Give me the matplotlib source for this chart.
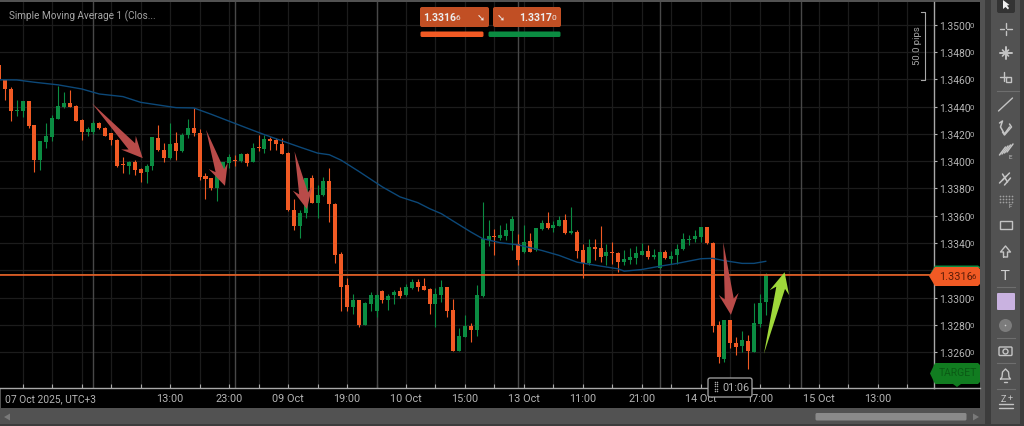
import matplotlib
matplotlib.use('Agg')
import numpy as np
import matplotlib.pyplot as plt
from matplotlib.patches import Rectangle, Polygon, FancyBboxPatch, Circle

plt.rcParams['font.family'] = ['Roboto', 'DejaVu Sans']

# hourly candles, first one is cut off by the left edge
first_index = -1
opens = [1.34703, 1.34598, 1.34532, 1.34365, 1.34370, 1.34439, 1.34262, 1.34010, 1.34140, 1.34176,
         1.34311, 1.34397, 1.34429, 1.34407, 1.34301, 1.34211, 1.34211, 1.34277, 1.34245, 1.34203,
         1.34157, 1.33978, 1.33966, 1.33997, 1.33939, 1.33917, 1.33968, 1.34169, 1.34081, 1.34024,
         1.34130, 1.34073, 1.34189, 1.34245, 1.34203, 1.33892, 1.33875, 1.33804, 1.33895, 1.33990,
         1.34012, 1.34000, 1.34051, 1.33995, 1.34103, 1.34088, 1.34164, 1.34152, 1.34122, 1.34059,
         1.33642, 1.33525, 1.33618, 1.33880, 1.33696, 1.33750, 1.33851, 1.33689, 1.33321, 1.33093,
         1.32929, 1.32983, 1.32802, 1.32954, 1.32902, 1.33052, 1.32983, 1.33017, 1.33047, 1.33017,
         1.33074, 1.33115, 1.33086, 1.33064, 1.32954, 1.33022, 1.33076, 1.32912, 1.32611, 1.32711,
         1.32792, 1.32763, 1.33015, 1.33419, 1.33454, 1.33436, 1.33454, 1.33490, 1.33395, 1.33331,
         1.33417, 1.33348, 1.33503, 1.33549, 1.33512, 1.33525, 1.33566, 1.33473, 1.33483, 1.33346,
         1.33255, 1.33370, 1.33363, 1.33307, 1.33336, 1.33326, 1.33258, 1.33277, 1.33292, 1.33316,
         1.33341, 1.33299, 1.33217, 1.33337, 1.33283, 1.33310, 1.33356, 1.33424, 1.33429, 1.33446,
         1.33515, 1.33403, 1.32800, 1.32551, 1.32836, 1.32668, 1.32644, 1.32683, 1.32605, 1.32807,
         1.32966]
closes = [1.34600, 1.34529, 1.34370, 1.34377, 1.34439, 1.34255, 1.34010, 1.34145, 1.34181, 1.34314,
          1.34402, 1.34429, 1.34399, 1.34296, 1.34213, 1.34235, 1.34277, 1.34240, 1.34186, 1.34154,
          1.33968, 1.33971, 1.33997, 1.33934, 1.33912, 1.33966, 1.34174, 1.34081, 1.34024, 1.34122,
          1.34073, 1.34191, 1.34245, 1.34203, 1.33887, 1.33870, 1.33804, 1.33895, 1.33997, 1.34029,
          1.34000, 1.34049, 1.33983, 1.34100, 1.34096, 1.34162, 1.34149, 1.34125, 1.34054, 1.33640,
          1.33522, 1.33618, 1.33875, 1.33696, 1.33753, 1.33851, 1.33686, 1.33314, 1.33081, 1.32929,
          1.32983, 1.32802, 1.32964, 1.33022, 1.33017, 1.32983, 1.33012, 1.33044, 1.33010, 1.33079,
          1.33115, 1.33081, 1.33059, 1.32954, 1.33025, 1.33079, 1.32902, 1.32611, 1.32719, 1.32792,
          1.32763, 1.33022, 1.33427, 1.33451, 1.33444, 1.33461, 1.33498, 1.33576, 1.33277, 1.33409,
          1.33336, 1.33507, 1.33549, 1.33510, 1.33534, 1.33566, 1.33471, 1.33485, 1.33343, 1.33253,
          1.33368, 1.33360, 1.33299, 1.33334, 1.33326, 1.33258, 1.33285, 1.33299, 1.33324, 1.33341,
          1.33299, 1.33316, 1.33332, 1.33288, 1.33302, 1.33356, 1.33429, 1.33432, 1.33449, 1.33517,
          1.33398, 1.32795, 1.32563, 1.32836, 1.32668, 1.32639, 1.32688, 1.32607, 1.32812, 1.32963,
          1.33166]
highs = [1.34703, 1.34598, 1.34541, 1.34451, 1.34443, 1.34439, 1.34262, 1.34149, 1.34279, 1.34341,
         1.34554, 1.34505, 1.34522, 1.34414, 1.34306, 1.34247, 1.34292, 1.34287, 1.34247, 1.34208,
         1.34162, 1.34029, 1.34002, 1.34005, 1.33949, 1.33978, 1.34174, 1.34262, 1.34132, 1.34279,
         1.34213, 1.34208, 1.34309, 1.34390, 1.34238, 1.33912, 1.33880, 1.33900, 1.33997, 1.34054,
         1.34047, 1.34059, 1.34059, 1.34135, 1.34194, 1.34194, 1.34179, 1.34169, 1.34169, 1.34064,
         1.33723, 1.33642, 1.33875, 1.33902, 1.33826, 1.33887, 1.33949, 1.33694, 1.33338, 1.33145,
         1.33027, 1.32983, 1.32971, 1.33044, 1.33025, 1.33057, 1.33027, 1.33057, 1.33081, 1.33103,
         1.33138, 1.33133, 1.33145, 1.33069, 1.33069, 1.33128, 1.33081, 1.32991, 1.32775, 1.32873,
         1.32812, 1.33093, 1.33701, 1.33571, 1.33505, 1.33534, 1.33547, 1.33596, 1.33463, 1.33534,
         1.33476, 1.33510, 1.33571, 1.33627, 1.33559, 1.33596, 1.33613, 1.33664, 1.33495, 1.33395,
         1.33432, 1.33427, 1.33525, 1.33395, 1.33407, 1.33334, 1.33351, 1.33365, 1.33382, 1.33402,
         1.33387, 1.33358, 1.33337, 1.33351, 1.33344, 1.33393, 1.33473, 1.33459, 1.33495, 1.33517,
         1.33517, 1.33405, 1.32832, 1.32836, 1.32836, 1.32714, 1.32754, 1.32727, 1.32958, 1.33027,
         1.33178]
lows = [1.34600, 1.34451, 1.34292, 1.34328, 1.34321, 1.34243, 1.33917, 1.33936, 1.34096, 1.34145,
        1.34311, 1.34390, 1.34394, 1.34292, 1.34154, 1.34181, 1.34198, 1.34238, 1.34181, 1.34120,
        1.33958, 1.33912, 1.33904, 1.33900, 1.33846, 1.33843, 1.33936, 1.34076, 1.33997, 1.34015,
        1.34010, 1.34068, 1.34169, 1.34184, 1.33863, 1.33721, 1.33789, 1.33708, 1.33887, 1.33949,
        1.33961, 1.33997, 1.33968, 1.33993, 1.34078, 1.34061, 1.34083, 1.34083, 1.34051, 1.33635,
        1.33495, 1.33434, 1.33586, 1.33691, 1.33581, 1.33748, 1.33557, 1.33255, 1.32905, 1.32905,
        1.32880, 1.32787, 1.32799, 1.32905, 1.32861, 1.32964, 1.32907, 1.32954, 1.32995, 1.33010,
        1.33064, 1.33047, 1.33057, 1.32880, 1.32787, 1.32971, 1.32861, 1.32606, 1.32608, 1.32709,
        1.32677, 1.32716, 1.33008, 1.33375, 1.33314, 1.33419, 1.33419, 1.33346, 1.33236, 1.33326,
        1.33331, 1.33343, 1.33498, 1.33500, 1.33481, 1.33522, 1.33463, 1.33468, 1.33294, 1.33145,
        1.33240, 1.33277, 1.33260, 1.33240, 1.33248, 1.33186, 1.33240, 1.33248, 1.33248, 1.33309,
        1.33285, 1.33280, 1.33215, 1.33283, 1.33246, 1.33246, 1.33351, 1.33385, 1.33405, 1.33410,
        1.33393, 1.32746, 1.32522, 1.32527, 1.32631, 1.32580, 1.32600, 1.32478, 1.32600, 1.32788,
        1.32876]

# moving average read at some of the candles
sma_index = [-1, 2, 5, 9, 13, 16, 20, 23, 29, 32, 35, 41, 44, 50, 53, 55, 57, 60, 64, 67, 70, 72, 74, 76,
             79, 81, 84, 87, 91, 94, 97, 101, 104, 105, 108, 111, 114, 118, 120, 122, 125, 127, 129]
sma_values = [1.34596, 1.34595, 1.34578, 1.34559, 1.34529, 1.34492, 1.34473, 1.34431, 1.34392, 1.34390,
              1.34343, 1.34243, 1.34194, 1.34103, 1.34059, 1.34047, 1.34007, 1.33925, 1.33811, 1.33738,
              1.33696, 1.33652, 1.33615, 1.33561, 1.33481, 1.33432, 1.33402, 1.33387, 1.33346, 1.33309,
              1.33260, 1.33231, 1.33211, 1.33194, 1.33206, 1.33230, 1.33251, 1.33285, 1.33288, 1.33271,
              1.33251, 1.33251, 1.33266]

price_ticks = [1.3260, 1.3280, 1.3300, 1.3320, 1.3340, 1.3360, 1.3380, 1.3400, 1.3420, 1.3440, 1.3460, 1.3480, 1.3500]
hidden_tick = 1.3320  # sits behind the price flag
time_index = [28, 38, 48, 58, 68, 78, 88, 98, 108, 118, 128, 138, 148]
time_labels = ['13:00', '23:00', '09 Oct', '19:00', '10 Oct', '15:00', '13 Oct', '11:00', '21:00', '14 Oct',
               '17:00', '15 Oct', '13:00']
day_index = [15, 39, 63, 87, 111, 135]
bid = 1.33166
ask = 1.33170

# drawn arrows on the chart: tail index, tail price, tip index, tip price
red_arrows = [(14.75, 1.34424, 23.35, 1.34022),
              (34.1, 1.34229, 37.3, 1.33819),
              (49.1, 1.34071, 51.2, 1.33649),
              (121.8, 1.33406, 123.1, 1.32874)]
green_arrow = (128.7, 1.32589, 132.2, 1.33186)

ORANGE = '#f15a24'
GREEN = '#0b8c42'
W, H = 1024, 427


def draw_arrow(ax, arrow, color):
    a = ax.transData.transform([arrow[0], arrow[1]])
    b = ax.transData.transform([arrow[2], arrow[3]])
    d = (b - a) / np.hypot(*(b - a))
    n = np.array([-d[1], d[0]])
    pts = [a, b - d * 16 + n * 4.5, b - d * 21 + n * 10, b, b - d * 21 - n * 10, b - d * 16 - n * 4.5]
    pts = ax.transData.inverted().transform(pts)
    ax.fill(pts[:, 0], pts[:, 1], color=color, lw=0, zorder=6)


def icon(ui, xs, ys, lw=1.0, color='#c4c4c4'):
    ui.plot(xs, ys, color=color, lw=lw, solid_capstyle='round')


fig = plt.figure(figsize=(W / 100, H / 100), dpi=100, facecolor='#525252')

# window background in pixel coordinates
bg = fig.add_axes([0, 0, 1, 1], zorder=0)
bg.set_xlim(0, W)
bg.set_ylim(H, 0)
bg.axis('off')
bg.add_patch(Rectangle((1, 3), 979, 406, color='#000000', lw=0))
bg.add_patch(Rectangle((985, 0), 6, H, color='#3c3c3c', lw=0))
bg.add_patch(Rectangle((1020, 0), 4, H, color='#3c3c3c', lw=0))
bg.add_patch(Rectangle((0, 425), W, 2, color='#3c3c3c', lw=0))

# chart
left, right, top, bottom = 0, 934, 3, 389
ax = fig.add_axes([left / W, 1 - bottom / H, (right - left) / W, (bottom - top) / H], zorder=1)
ax.set_facecolor('#000000')
ax.set_xlim((left - 5) / 5.897, (right - 5) / 5.897)
ax.set_ylim(1.32338, 1.35166)

x = np.arange(len(opens)) + first_index
o, c, hi, lo = map(np.array, (opens, closes, highs, lows))
colors = [GREEN if c[i] >= o[i] else ORANGE for i in range(len(o))]

ax.set_yticks(price_ticks)
ax.set_yticklabels(['' if p == hidden_tick else f'{p:.4f}' for p in price_ticks])
ax.yaxis.tick_right()
ax.tick_params(axis='y', colors='#b4b4b4', length=2.2, width=0.8, pad=1.5, labelsize=7.4)
ax.set_xticks(np.arange(3, 158, 5))
ax.set_xticklabels([])
ax.tick_params(axis='x', colors='#a8a8a8', length=3, width=0.8, direction='in')
ax.grid(True, color='#1c1c1c', lw=0.9)
ax.set_axisbelow(True)
for s in ('top', 'left'):
    ax.spines[s].set_visible(False)
for s in ('right', 'bottom'):
    ax.spines[s].set_color('#a8a8a8')
    ax.spines[s].set_linewidth(1)
for d in day_index:
    ax.axvline(d, color='#484848', lw=1, zorder=1)

ax.axhline(ask + 0.00003, color=GREEN, lw=0.7, zorder=5)
ax.axhline(bid, color=ORANGE, lw=1.2, zorder=5)
ax.vlines(x, lo, hi, color=colors, lw=0.8, zorder=3)
ax.bar(x, np.abs(c - o), bottom=np.minimum(o, c), width=0.68, color=colors, lw=0, zorder=4)
ax.plot(sma_index, sma_values, color='#0c4878', lw=1.0, zorder=5)

for arrow in red_arrows:
    draw_arrow(ax, arrow, '#b94b49')
draw_arrow(ax, green_arrow, '#9fd83a')

for p in price_ticks:
    if p == hidden_tick:
        continue
    ax.text(1.0385, p, '0', transform=ax.get_yaxis_transform(), color='#b4b4b4', fontsize=5.6,
            va='center', ha='left', clip_on=False)
for i, lab in zip(time_index, time_labels):
    ax.annotate(lab, (i, 0), xycoords=ax.get_xaxis_transform(), xytext=(0, -7), textcoords='offset points',
                ha='center', va='center', color='#b4b4b4', fontsize=7.8, annotation_clip=False)
ax.annotate('07 Oct 2025, UTC+3', (0, 0), xycoords='axes fraction', xytext=(3.6, -7), textcoords='offset points',
            ha='left', va='center', color='#b4b4b4', fontsize=7.4)

# everything that sits on top of the chart
ui = fig.add_axes([0, 0, 1, 1], zorder=2)
ui.set_xlim(0, W)
ui.set_ylim(H, 0)
ui.axis('off')
ui.patch.set_alpha(0)

ui.plot([934, 980], [389, 389], color='#a8a8a8', lw=1)
ui.text(9, 16, 'Simple Moving Average 1 (Clos...', color='#a6a6a6', fontsize=7.2, va='center')

# bid / ask badges
for bx, bw in ((420, 69), (493, 68)):
    ui.add_patch(FancyBboxPatch((bx + 2, 10), bw - 4, 16, boxstyle='round,pad=2', color='#c14f24', lw=0))
ui.text(423.5, 18, '1.3316', color='#ececec', fontsize=7.6, fontweight='bold', va='center')
ui.text(456, 18.5, '6', color='#ececec', fontsize=6, va='center')
ui.text(481, 18, '➘', color='#ececec', fontsize=7, va='center', ha='center', family='DejaVu Sans')
ui.text(501, 18, '➘', color='#ececec', fontsize=7, va='center', ha='center', family='DejaVu Sans')
ui.text(519.5, 18, '1.3317', color='#ececec', fontsize=7.6, fontweight='bold', va='center')
ui.text(552, 18.5, '0', color='#ececec', fontsize=6, va='center')
ui.add_patch(FancyBboxPatch((422, 34), 60, 2.5, boxstyle='round,pad=1.5', color=ORANGE, lw=0))
ui.add_patch(FancyBboxPatch((490, 34), 69, 2.5, boxstyle='round,pad=1.5', color=GREEN, lw=0))

# pips ruler
ui.plot([921, 924.5, 924.5, 921], [12.5, 12.5, 81, 81], color='#a8a8a8', lw=0.8)
ui.text(917, 46, '50.0 pips', color='#a8a8a8', fontsize=6.8, rotation=90, ha='center', va='center')

# price flags
ui.add_patch(Polygon([(929, 277), (935, 266.5), (978, 266.5), (980, 268), (980, 269), (935, 269)], color=GREEN, lw=0))
ui.add_patch(Polygon([(929, 277), (935, 268), (978, 268), (980, 270), (980, 285), (978, 287), (935, 287)],
                     color=ORANGE, lw=0))
ui.text(939.5, 277, '1.3316', color='#5c1d08', fontsize=7.8, va='center')
ui.text(971.5, 277.5, '6', color='#5c1d08', fontsize=5.6, va='center')
ui.add_patch(Polygon([(930, 374.5), (935, 364), (978, 364), (980, 366), (980, 383), (978, 385), (961, 385),
                      (957, 388), (953, 385), (935, 385)], color='#117c20', lw=0))
ui.text(939, 373.5, 'TARGET', color='#0b5a15', fontsize=7.5, va='center')

# countdown
ui.add_patch(FancyBboxPatch((710, 381), 40, 15, boxstyle='round,pad=2', facecolor='#000000',
                            edgecolor='#a8a8a8', lw=0.9))
ui.scatter([714.5, 717] * 5, np.repeat([383, 385.2, 387.4, 389.6, 391.8], 2), s=1.2, color='#a8a8a8', lw=0)
ui.text(735.5, 388.5, '01:06', color='#b4b4b4', fontsize=7.8, ha='center', va='center')

# scrollbar
ui.add_patch(FancyBboxPatch((817, 415.5), 148, 4.5, boxstyle='round,pad=1.5', color='#8a8a8a', lw=0))
ui.add_patch(Polygon([(4, 418), (10, 414.5), (10, 421.5)], color='#7a7a7a', lw=0))
ui.add_patch(Polygon([(979, 418), (973, 414.5), (973, 421.5)], color='#7a7a7a', lw=0))

# toolbar, rough line icons
ui.add_patch(FancyBboxPatch((999, -4), 14, 16, boxstyle='round,pad=2', color='#333333', lw=0))
ui.add_patch(Polygon([(1003, 1), (1003, 10), (1005.5, 8), (1008, 10.5), (1009, 9), (1007, 6.5), (1009.5, 6)],
                     color='#f0f0f0', lw=0))
cx = 1005.5
icon(ui, [cx - 6, cx - 1.5], [30, 30]); icon(ui, [cx + 1.5, cx + 6], [30, 30])
icon(ui, [cx, cx], [24, 28.5]); icon(ui, [cx, cx], [31.5, 36])
icon(ui, [cx - 6, cx + 6], [54, 54], 1.4); icon(ui, [cx, cx], [48, 60], 1.4)
icon(ui, [cx - 3, cx + 3], [51, 57], 1.2); icon(ui, [cx - 3, cx + 3], [57, 51], 1.2)
icon(ui, [cx - 6, cx + 1], [78, 78]); icon(ui, [cx - 2, cx - 2], [73, 82])
ui.add_patch(Rectangle((cx, 78), 5, 5, fill=False, edgecolor='#c4c4c4', lw=1))
ui.plot([cx - 9, cx + 13], [92, 92], color='#6e6e6e', lw=0.8)
icon(ui, [cx - 7, cx + 7], [112, 99])
icon(ui, [cx - 6, cx - 3, cx - 5, cx - 1, cx + 4], [124, 122, 128, 135, 128], 1.1)
icon(ui, [cx + 4, cx + 6, cx - 1, cx - 3], [125, 128, 136, 133], 1.1)
for k in range(4):
    icon(ui, [cx - 6 + k * 2.5, cx + k * 2.5], [156 - k, 148 - k], 1.1)
ui.text(cx + 5, 158, 'E', color='#c4c4c4', fontsize=4.5, ha='center', va='center')
icon(ui, [cx - 6, cx + 1], [184, 177], 1.1); icon(ui, [cx - 3, cx + 4], [181, 174], 1.1)
icon(ui, [cx - 1, cx + 5], [186, 179], 1.1); icon(ui, [cx - 3, cx + 2], [175, 183], 1.1)
ui.scatter(np.tile(np.arange(cx - 6, cx + 7, 3), 3), np.repeat([197, 200, 203], 5), s=1.5, color='#a0a0a0', lw=0)
ui.text(cx + 5, 207, 'F', color='#c4c4c4', fontsize=4.5, ha='center', va='center')
ui.add_patch(Rectangle((cx - 5.5, 222), 12, 8, fill=False, edgecolor='#c4c4c4', lw=1))
icon(ui, [cx - 2, cx - 2, cx - 5, cx, cx + 5, cx + 2, cx + 2, cx - 2],
     [258, 253, 253, 247, 253, 253, 258, 258])
ui.text(cx, 276.5, 'T', color='#d0d0d0', fontsize=10, ha='center', va='center', family='DejaVu Sans')
ui.plot([cx - 9, cx + 9], [288, 288], color='#6e6e6e', lw=0.8)
ui.add_patch(FancyBboxPatch((cx - 7.5, 295), 16, 15, boxstyle='round,pad=1', color='#c9b2e0', lw=0))
ui.add_patch(Circle((cx, 326.5), 6.5, color='#7c7c7c', lw=0))
ui.add_patch(Circle((cx, 326.5), 0.8, color='#d0d0d0', lw=0))
ui.plot([cx - 9, cx + 9], [339, 339], color='#6e6e6e', lw=0.8)
ui.add_patch(FancyBboxPatch((cx - 5.5, 349), 11, 6.5, boxstyle='round,pad=1', fill=False, edgecolor='#c4c4c4', lw=1))
ui.add_patch(Circle((cx, 352.5), 2.5, fill=False, edgecolor='#c4c4c4', lw=1))
ui.plot([cx - 9, cx + 9], [364, 364], color='#6e6e6e', lw=0.8)
icon(ui, [cx - 5, cx - 3.5, cx - 3, cx, cx + 3, cx + 3.5, cx + 5, cx - 5],
     [380, 378, 373, 370, 373, 378, 380, 380])
icon(ui, [cx - 1.5, cx + 1.5], [382.5, 382.5])
ui.plot([cx - 9, cx + 9], [390, 390], color='#6e6e6e', lw=0.8)
ui.text(cx - 2, 399.5, 'Z', color='#c4c4c4', fontsize=6.5, ha='center', va='center')
ui.text(cx + 5, 399, '+', color='#c4c4c4', fontsize=6.5, ha='center', va='center')
icon(ui, [cx - 7, cx + 7], [405, 405]); icon(ui, [cx - 7, cx + 7], [408.5, 408.5])

fig.savefig('out.png', dpi=100, facecolor=fig.get_facecolor())
